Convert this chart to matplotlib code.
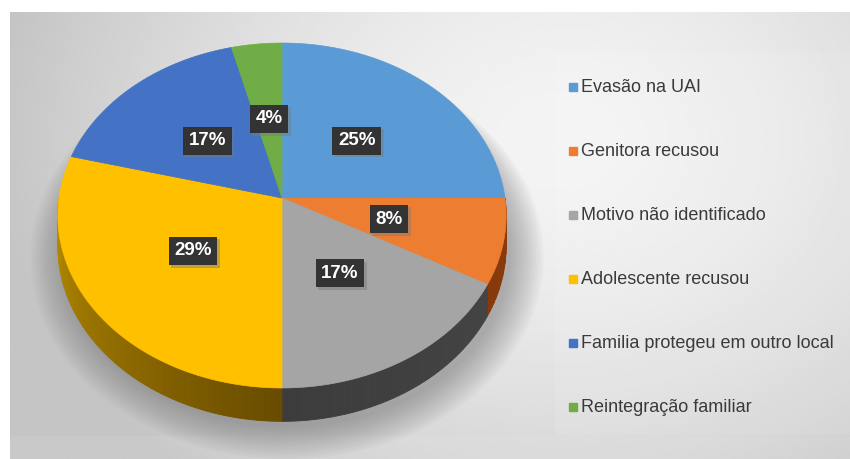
import numpy as np
import matplotlib

matplotlib.use("Agg")
import matplotlib.pyplot as plt
from matplotlib.colors import to_rgb
from matplotlib.patches import Polygon, Rectangle

# data (percentages, clockwise from 12 o'clock)
categories = [
    "Evasão na UAI",
    "Genitora recusou",
    "Motivo não identificado",
    "Adolescente recusou",
    "Familia protegeu em outro local",
    "Reintegração familiar",
]
values = [25, 8, 17, 29, 17, 4]
top_colors = ["#5b9bd5", "#ed7d31", "#a5a5a5", "#ffc000", "#4472c4", "#70ad47"]
# side shading per slice: (colour at the rim edges, colour at the front)
side_colors = [
    ("#3d6e9c", "#2f5678"),
    ("#8c3c0c", "#7a3206"),
    ("#484848", "#3c3c3c"),
    ("#b98e00", "#684b00"),
    ("#2f5494", "#243f70"),
    ("#4e7a31", "#3b5c25"),
]

# pie geometry in pixels (simple perspective tilt)
CX, CY = 282.0, 198.0
RX, RY = 223.0, 170.7
K = 0.1014
DEPTH = 30.0
LABEL_R = 0.49


def proj(theta_deg, r=1.0, drop=0.0):
    th = np.radians(theta_deg)
    u = r * np.sin(th)
    w = r * np.cos(th)
    s = 1.0 / (1.0 + K * w)
    return CX + RX * u * s, CY + (-RY * w + drop) * s


def mix(c1, c2, f):
    a, b = np.array(to_rgb(c1)), np.array(to_rgb(c2))
    return tuple(b + (a - b) * f)


fig = plt.figure(figsize=(8.5, 4.59), dpi=100)
ax = fig.add_axes([0, 0, 1, 1])
ax.set_xlim(0, 850)
ax.set_ylim(459, 0)
ax.axis("off")

# background panel with soft radial gradient
x0, x1, y0, y1 = 10, 850, 12, 459
gx, gy = np.meshgrid(np.linspace(x0, x1, 300), np.linspace(y0, y1, 160))
d = np.sqrt(((gx - 560) / 560.0) ** 2 + ((gy - 140) / 440.0) ** 2)
shade = np.clip(0.955 - 0.18 * d ** 1.6, 0.77, 0.96)
ax.imshow(shade, cmap="gray", vmin=0, vmax=1, extent=(x0, x1, y1, y0),
          aspect="auto", interpolation="bilinear", zorder=0)
# slightly lighter legend area and bottom band
ax.add_patch(Rectangle((555, 52), 295, 383, color="white", alpha=0.1, lw=0, zorder=0.5))
ax.add_patch(Rectangle((10, 436), 840, 23, color="white", alpha=0.08, lw=0, zorder=0.5))

# soft shadow beneath the pie
ring = np.linspace(0, 360, 240)
for i in range(14):
    sx, sy = proj(ring, r=1.0 + 0.011 * i, drop=DEPTH + 3)
    ax.add_patch(Polygon(np.column_stack([sx + 5, sy + 3]), closed=True,
                         color="#5a5a5a", alpha=0.035, lw=0, zorder=1))

starts = np.concatenate([[0], np.cumsum(values)[:-1]]) * 3.6
ends = np.cumsum(values) * 3.6

# side walls (only the front half is visible)
for (t1, t2), (light, dark) in zip(zip(starts, ends), side_colors):
    lo, hi = max(t1, 90.0), min(t2, 270.0)
    if lo >= hi:
        continue
    edges = np.linspace(lo, hi, int((hi - lo) / 1.5) + 2)
    for a, b in zip(edges[:-1], edges[1:]):
        arc = np.linspace(a, b, 4)
        tx, ty = proj(arc)
        bx, by = proj(arc[::-1], drop=DEPTH)
        f = abs((a + b) / 2 - 180.0) / 90.0
        col = mix(light, dark, f)
        ax.add_patch(Polygon(np.column_stack([np.r_[tx, bx], np.r_[ty, by]]),
                             closed=True, fc=col, ec=col, lw=0.6, zorder=2))

# top face
for t1, t2, col in zip(starts, ends, top_colors):
    arc = np.linspace(t1, t2, max(int(t2 - t1), 2) + 1)
    px, py = proj(arc)
    pts = np.column_stack([np.r_[CX, px], np.r_[CY, py]])
    ax.add_patch(Polygon(pts, closed=True, fc=col, ec=col, lw=0.5, zorder=3))

# data labels
for t1, t2, v in zip(starts, ends, values):
    lx, ly = proj((t1 + t2) / 2, r=LABEL_R)
    ax.text(lx + 2.5, ly + 2.5, f"{v}%", ha="center", va="center", fontsize=13.5,
            fontweight="bold", family="Liberation Sans", color="#8a8a8a", alpha=0.0,
            bbox=dict(boxstyle="square,pad=0.3", fc="#7a7a7a", ec="none", alpha=0.45),
            zorder=4)
    ax.text(lx, ly, f"{v}%", ha="center", va="center", fontsize=13.5,
            fontweight="bold", family="Liberation Sans", color="white",
            bbox=dict(boxstyle="square,pad=0.3", fc="#333333", ec="none"),
            zorder=5)

# legend
for i, (name, col) in enumerate(zip(categories, top_colors)):
    yy = 87 + i * 64
    ax.plot([573], [yy], marker="s", markersize=5.5, color=col, zorder=5)
    ax.text(581, yy, name, ha="left", va="center", fontsize=13,
            family="Liberation Sans", color="#3a3a3a", zorder=5)

fig.savefig("out.png", dpi=100)
